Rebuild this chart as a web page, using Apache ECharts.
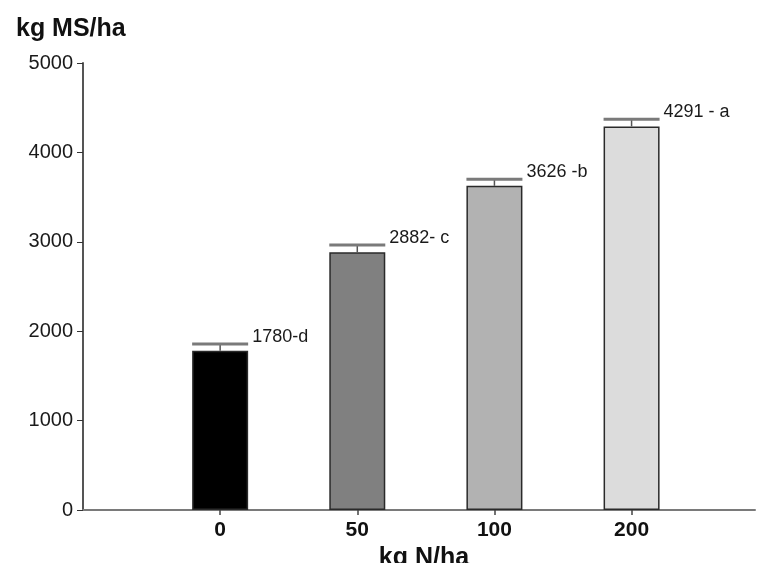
<!DOCTYPE html>
<html>
<head>
<meta charset="utf-8">
<script src="https://cdn.jsdelivr.net/npm/echarts@6/dist/echarts.min.js"></script>
<style>
	html, body { margin: 0; padding: 0; background: #fff; }
	#main { width: 761px; height: 563px; }
</style>
</head>
<body>
<div id="main"></div>
<script>
// 数据
var categories = ['0', '50', '100', '200'];
var yields = [1780, 2882, 3626, 4291];
var errors = [77, 82, 73, 79];
var letters = ['1780-d', '2882- c', '3626 -b', '4291 - a'];
var barColors = ['#000000', '#808080', '#b2b2b2', '#dcdcdc'];
var yTicks = [0, 1000, 2000, 3000, 4000, 5000];

var BAR_W = 56;

var myChart = echarts.init(document.getElementById('main'));

var barData = yields.map(function (v, i) {
	return {
		value: [i + 1, v],
		itemStyle: { color: barColors[i] }
	};
});
var errData = yields.map(function (v, i) {
	return [i + 1, v, v + errors[i], letters[i]];
});

var option = {
	animation: false,
	title: {
		text: 'kg MS/ha',
		left: 11,
		top: 12,
		textStyle: {
			fontFamily: 'Liberation Sans',
			fontWeight: 'bold',
			fontSize: 25,
			color: '#111'
		}
	},
	grid: { left: 83, right: 6, top: 63, bottom: 53, containLabel: false, outerBoundsMode: 'none' },
	xAxis: {
		type: 'value',
		min: 0,
		max: 4.9,
		name: 'kg N/ha',
		nameLocation: 'middle',
		nameGap: 30,
		nameTextStyle: {
			fontFamily: 'Liberation Sans',
			fontWeight: 'bold',
			fontSize: 25,
			color: '#111',
			padding: [0, 0, 0, 10]
		},
		splitLine: { show: false },
		axisLine: { onZero: false, lineStyle: { color: '#7a7a7a', width: 2 } },
		axisTick: {
			customValues: [1, 2, 3, 4],
			length: 5,
			lineStyle: { color: '#444', width: 1.5 }
		},
		axisLabel: {
			customValues: [1, 2, 3, 4],
			margin: 10,
			fontFamily: 'Liberation Sans',
			fontWeight: 'bold',
			fontSize: 21,
			color: '#111',
			formatter: function (v) { return categories[Math.round(v) - 1] || ''; }
		}
	},
	yAxis: {
		type: 'value',
		min: yTicks[0],
		max: yTicks[yTicks.length - 1],
		interval: 1000,
		splitLine: { show: false },
		axisLine: { show: true, lineStyle: { color: '#555', width: 2 } },
		axisTick: { show: true, length: 6, lineStyle: { color: '#333', width: 1 } },
		axisLabel: {
			margin: 10,
			fontFamily: 'Liberation Sans',
			fontSize: 20,
			color: '#1a1a1a',
			formatter: function (v) { return String(v); }
		}
	},
	series: [{
		type: 'bar',
		barWidth: BAR_W,
		data: barData,
		itemStyle: { borderColor: '#2a2a2a', borderWidth: 1.5 }
	}, {
		type: 'custom',
		data: errData,
		z: 5,
		renderItem: function (params, api) {
			var top = api.coord([api.value(0), api.value(1)]);
			var cap = api.coord([api.value(0), api.value(2)]);
			var half = BAR_W / 2;
			var x0 = top[0] - half, x1 = top[0] + half;
			return {
				type: 'group',
				children: [{
					type: 'line',
					shape: { x1: top[0], y1: top[1], x2: top[0], y2: cap[1] },
					style: { stroke: '#555', lineWidth: 1.5 }
				}, {
					type: 'line',
					shape: { x1: x0, y1: cap[1], x2: x1, y2: cap[1] },
					style: { stroke: '#7a7a7a', lineWidth: 3 }
				}, {
					type: 'text',
					x: x1 + 4,
					y: cap[1] + 2,
					style: {
						text: api.value(3),
						fontFamily: 'Liberation Sans',
						fontSize: 18,
						fill: '#1a1a1a',
						align: 'left',
						verticalAlign: 'bottom'
					}
				}]
			};
		}
	}]
};

myChart.setOption(option);
</script>
</body>
</html>
